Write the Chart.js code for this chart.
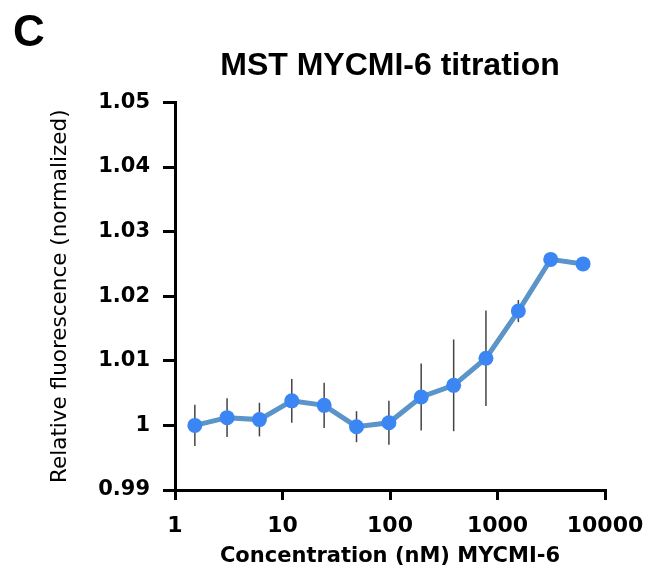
<!DOCTYPE html>
<html>
<head>
<meta charset="utf-8">
<script src="https://cdn.jsdelivr.net/npm/chart.js@4/dist/chart.umd.min.js"></script>
<style>
  html, body { margin: 0; padding: 0; background: #fff; }
  #wrap { width: 647px; height: 582px; position: relative; }
</style>
</head>
<body>
<div id="wrap"><canvas id="chart"></canvas></div>
<script>
// concentrations (nM), 2-fold dilution series
const concentrations = [1.53, 3.05, 6.1, 12.2, 24.4, 48.8, 97.7, 195, 391, 781, 1563, 3125, 6250];
const fluorescence = [1.0000, 1.0012, 1.0009, 1.0038, 1.0031, 0.9998, 1.0004, 1.0044, 1.0062, 1.0104, 1.0177, 1.0257, 1.0250];
const errors = [0.0032, 0.0030, 0.0026, 0.0034, 0.0035, 0.0024, 0.0034, 0.0052, 0.0071, 0.0074, 0.0017, 0.0003, 0.0003];
const xTicks = [1, 10, 100, 1000, 10000];
const yTicks = [0.99, 1, 1.01, 1.02, 1.03, 1.04, 1.05];
const yTickLabels = ["0.99", "1", "1.01", "1.02", "1.03", "1.04", "1.05"];

const points = concentrations.map((c, i) => ({ x: c, y: fluorescence[i] }));

// vertical error bars, drawn under the line and markers
const errorBars = {
  id: "errorBars",
  beforeDatasetsDraw(chart) {
    const { ctx, scales } = chart;
    ctx.save();
    ctx.strokeStyle = "#444";
    ctx.lineWidth = 1.5;
    concentrations.forEach((c, i) => {
      const px = scales.x.getPixelForValue(c);
      ctx.beginPath();
      ctx.moveTo(px, scales.y.getPixelForValue(fluorescence[i] - errors[i]));
      ctx.lineTo(px, scales.y.getPixelForValue(fluorescence[i] + errors[i]));
      ctx.stroke();
    });
    ctx.restore();
  },
};

// panel letter
const panelLetter = {
  id: "panelLetter",
  afterDraw(chart) {
    const ctx = chart.ctx;
    ctx.save();
    ctx.fillStyle = "#000";
    ctx.font = "bold 44px 'Liberation Sans', Arial, sans-serif";
    ctx.textBaseline = "alphabetic";
    ctx.fillText("C", 13, 46);
    ctx.restore();
  },
};

new Chart(document.getElementById("chart"), {
  type: "line",
  data: {
    datasets: [
      {
        data: points,
        borderColor: "#5a94c8",
        borderWidth: 5,
        pointRadius: 7.5,
        pointBackgroundColor: "#3c86f4",
        pointBorderWidth: 0,
        tension: 0,
      },
    ],
  },
  options: {
    responsive: true,
    maintainAspectRatio: false,
    animation: false,
    layout: { padding: { left: 0, right: 42, top: 0, bottom: 0 } },
    plugins: {
      legend: { display: false },
      tooltip: { enabled: false },
      title: {
        display: true,
        fullSize: false,
        text: "MST MYCMI-6 titration",
        color: "#000",
        font: { family: "'Liberation Sans', Arial, sans-serif", size: 32, weight: "bold", lineHeight: 1.2 },
        padding: { top: 47, bottom: 17 },
      },
    },
    scales: {
      x: {
        type: "logarithmic",
        min: 1,
        max: 10000,
        afterBuildTicks(scale) {
          scale.ticks = xTicks.map((v) => ({ value: v }));
        },
        afterFit(scale) {
          scale.height = 92;
          scale.paddingLeft = 0;
          scale.paddingRight = 0;
        },
        border: { color: "#000", width: 3 },
        grid: { drawOnChartArea: false, drawTicks: true, tickLength: 10, tickColor: "#000", lineWidth: 3 },
        ticks: {
          color: "#000",
          padding: 13,
          maxRotation: 0,
          autoSkip: false,
          font: { family: "'DejaVu Sans', sans-serif", size: 22, weight: "bold" },
          callback: (v) => String(v),
        },
        title: {
          display: true,
          text: "Concentration (nM) MYCMI-6",
          color: "#000",
          font: { family: "'DejaVu Sans', sans-serif", size: 21, weight: "bold" },
          padding: { top: 0, bottom: 13 },
        },
      },
      y: {
        min: 0.99,
        max: 1.05,
        afterBuildTicks(scale) {
          scale.ticks = yTicks.map((v) => ({ value: v }));
        },
        afterFit(scale) {
          scale.width = 175;
        },
        border: { color: "#000", width: 3 },
        grid: { drawOnChartArea: false, drawTicks: true, tickLength: 12, tickColor: "#000", lineWidth: 3 },
        ticks: {
          color: "#000",
          padding: 13,
          autoSkip: false,
          font: { family: "'DejaVu Sans', sans-serif", size: 21, weight: "bold" },
          callback: (v, i) => yTickLabels[i],
        },
        title: {
          display: true,
          text: "Relative fluorescence (normalized)",
          color: "#000",
          font: { family: "'DejaVu Sans', sans-serif", size: 21.5, weight: "normal" },
          padding: { top: 48, bottom: 0 },
        },
      },
    },
  },
  plugins: [errorBars, panelLetter],
});
</script>
</body>
</html>
